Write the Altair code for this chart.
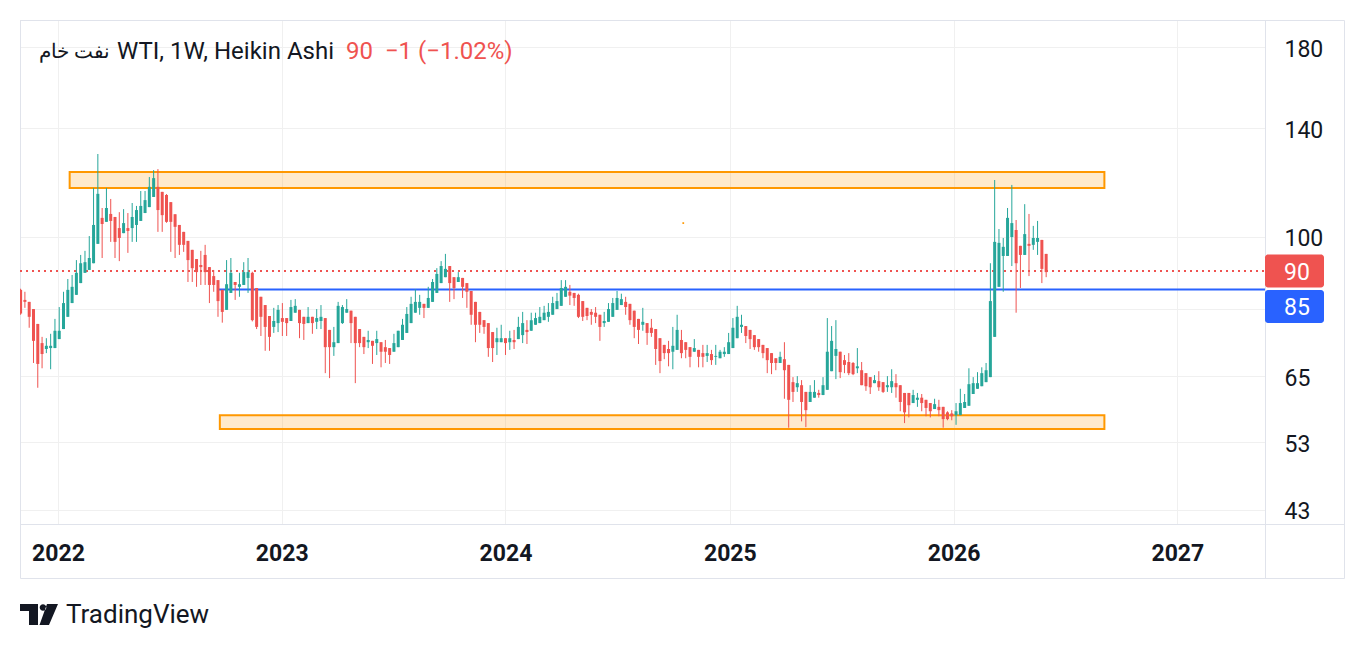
import altair as alt
import pandas as pd

# ---------------- data ----------------
first_week = "2021-11-01"

ha_open = [84.9, 82.3, 81.8, 80.0, 76.4, 72.0, 70.7, 70.9, 70.9, 72.9,
           75.2, 78.1, 81.5, 83.6, 86.7, 89.5, 90.3, 92.2, 97.9, 106.1,
           104.8, 107.4, 106.4, 102.8, 101.2, 102.8, 102.8, 103.8, 105.1, 107.7,
           109.7, 113.2, 116.8, 115.0, 113.9, 111.4, 107.3, 103.8, 101.6, 98.8,
           96.1, 93.4, 91.7, 94.6, 91.1, 88.6, 87.5, 84.9, 79.8, 84.1,
           87.0, 85.7, 86.2, 88.1, 89.5, 85.4, 83.1, 81.0, 78.3, 75.7,
           76.6, 77.8, 77.8, 77.1, 79.1, 79.8, 78.1, 76.6, 78.1, 76.9,
           77.1, 77.8, 75.0, 71.1, 72.0, 76.6, 79.1, 79.6, 78.1, 75.2,
           73.4, 72.2, 72.5, 72.0, 72.2, 71.1, 70.9, 70.1, 71.1, 72.7,
           74.3, 76.6, 79.1, 80.3, 81.3, 80.3, 81.8, 84.1, 86.7, 88.3,
           91.4, 88.3, 87.0, 88.1, 86.7, 84.6, 81.8, 79.3, 77.3, 76.6,
           74.5, 72.2, 72.2, 73.1, 72.2, 72.7, 72.9, 73.8, 75.0, 74.8,
           76.2, 76.6, 77.3, 78.1, 78.6, 80.0, 80.8, 83.1, 84.4, 84.1,
           83.6, 82.0, 80.3, 79.3, 79.1, 78.6, 76.6, 76.9, 78.1, 79.8,
           81.0, 81.8, 81.3, 79.6, 77.6, 76.2, 76.6, 75.5, 75.2, 73.1,
           71.6, 70.7, 70.1, 70.5, 72.7, 72.2, 71.1, 70.1, 70.5, 69.8,
           69.2, 69.6, 69.0, 68.7, 69.6, 69.6, 70.9, 73.1, 75.7, 75.9,
           75.0, 73.8, 72.9, 71.6, 70.9, 69.8, 68.7, 67.7, 68.5, 67.3,
           63.8, 62.8, 63.2, 61.9, 60.0, 60.8, 61.7, 61.3, 62.3, 66.0,
           69.2, 70.1, 68.3, 67.9, 67.7, 66.6, 66.2, 65.6, 64.8, 63.6,
           64.0, 63.8, 62.8, 62.8, 63.6, 63.2, 61.7, 61.7, 59.8, 60.4,
           60.8, 60.4, 59.8, 58.7, 59.1, 59.1, 58.1, 57.9, 57.6, 57.6,
           58.9, 59.3, 61.5, 62.5, 63.0, 63.8, 64.8, 73.4, 85.7, 94.3,
           94.3, 100.0, 102.2, 97.3, 94.6, 97.9, 97.6, 98.5, 99.1, 94.9]

ha_high = [85.2, 84.4, 81.8, 80.0, 76.4, 73.4, 73.1, 74.1, 77.6, 80.5,
           84.4, 87.8, 88.9, 93.1, 94.6, 95.8, 100.3, 116.4, 129.3, 109.4,
           116.4, 112.5, 106.4, 108.0, 109.0, 107.7, 111.1, 110.1, 115.3, 115.3,
           120.4, 123.0, 123.4, 115.0, 114.2, 111.4, 107.3, 103.8, 101.6, 98.8,
           96.1, 93.4, 95.8, 97.6, 91.1, 90.3, 87.5, 84.9, 93.1, 93.7,
           87.0, 89.5, 92.5, 93.7, 89.8, 85.4, 83.1, 81.0, 78.3, 80.3,
           81.0, 81.5, 77.8, 82.3, 82.5, 79.8, 78.1, 80.5, 78.1, 80.0,
           81.0, 77.8, 75.0, 75.7, 81.8, 81.0, 82.5, 79.6, 78.1, 75.2,
           73.4, 74.8, 72.5, 74.8, 72.2, 72.7, 70.9, 74.1, 74.8, 77.6,
           80.5, 83.1, 85.1, 83.6, 81.3, 85.7, 87.8, 90.8, 92.8, 94.9,
           91.4, 88.3, 89.7, 88.1, 86.7, 84.6, 81.8, 79.3, 77.3, 76.6,
           74.5, 75.5, 76.2, 73.1, 74.8, 75.0, 78.1, 79.3, 77.3, 79.1,
           79.1, 80.5, 80.8, 81.5, 83.1, 84.1, 87.5, 87.5, 86.2, 84.1,
           83.9, 82.0, 80.3, 80.0, 80.5, 78.6, 79.3, 81.5, 82.8, 84.6,
           83.9, 83.1, 81.3, 79.6, 77.6, 80.3, 76.6, 77.6, 75.2, 73.1,
           71.6, 72.5, 75.7, 78.6, 75.0, 72.2, 71.1, 72.9, 70.5, 71.6,
           71.6, 70.5, 71.6, 70.5, 71.1, 74.3, 77.8, 80.8, 78.6, 75.9,
           75.0, 73.8, 72.9, 71.6, 70.9, 69.8, 68.7, 70.1, 72.2, 67.3,
           64.8, 65.0, 64.2, 61.9, 63.2, 64.2, 62.3, 64.8, 77.8, 75.9,
           77.3, 70.1, 69.4, 69.8, 67.9, 70.9, 67.9, 65.6, 64.8, 65.2,
           66.0, 63.8, 65.0, 66.4, 65.4, 63.2, 61.7, 61.7, 62.3, 61.7,
           61.5, 60.4, 59.8, 60.6, 60.4, 59.1, 58.3, 58.5, 59.8, 62.5,
           61.5, 66.6, 64.8, 65.8, 66.8, 67.7, 92.2, 119.3, 102.5, 99.7,
           109.4, 117.5, 105.4, 97.3, 110.7, 107.4, 103.5, 105.1, 99.1, 94.9]

ha_low = [78.6, 80.3, 75.5, 67.7, 62.7, 66.6, 69.8, 66.4, 70.9, 72.9,
          75.2, 78.1, 81.5, 83.6, 86.7, 89.5, 90.3, 92.2, 97.9, 93.7,
          104.8, 98.5, 93.7, 92.8, 101.2, 95.2, 98.5, 98.5, 105.1, 107.7,
          109.7, 113.2, 101.6, 101.6, 104.5, 95.5, 93.7, 94.6, 95.5, 87.0,
          87.0, 85.7, 86.2, 86.2, 81.5, 84.4, 78.1, 76.7, 79.8, 84.1,
          82.3, 83.1, 86.2, 84.1, 77.0, 75.2, 73.6, 70.3, 70.3, 74.3,
          74.5, 73.6, 73.6, 77.1, 79.1, 73.1, 72.7, 76.6, 74.1, 75.2,
          75.2, 65.6, 64.6, 69.2, 72.0, 76.4, 79.1, 72.0, 63.6, 71.1,
          69.6, 70.9, 67.5, 69.4, 66.8, 67.7, 67.5, 70.1, 71.1, 72.7,
          74.3, 76.6, 79.1, 78.6, 77.8, 80.3, 81.8, 84.1, 86.7, 88.3,
          81.8, 82.5, 87.0, 82.8, 80.3, 76.2, 72.2, 74.3, 74.1, 69.0,
          67.9, 69.4, 72.2, 69.4, 70.5, 70.7, 72.9, 72.0, 71.8, 74.8,
          76.2, 76.6, 77.3, 76.9, 78.6, 80.0, 80.8, 83.1, 81.0, 80.8,
          77.8, 77.1, 77.3, 76.2, 76.6, 72.5, 75.7, 76.9, 78.1, 79.8,
          81.0, 78.6, 76.2, 73.1, 71.8, 74.8, 71.6, 73.4, 67.3, 65.6,
          68.5, 67.0, 66.4, 70.5, 68.7, 68.7, 66.8, 70.1, 66.8, 66.8,
          67.9, 67.3, 67.3, 68.7, 69.0, 69.6, 70.9, 73.1, 74.3, 72.0,
          70.7, 70.5, 70.1, 68.7, 65.6, 65.4, 66.2, 67.7, 60.6, 55.4,
          60.0, 61.9, 56.5, 55.5, 60.0, 60.8, 60.8, 61.3, 62.3, 66.0,
          64.4, 64.6, 65.6, 65.2, 65.2, 65.6, 63.2, 62.1, 61.5, 63.6,
          62.1, 61.7, 61.9, 61.7, 60.8, 58.3, 56.2, 57.2, 59.8, 59.1,
          58.3, 57.4, 57.2, 58.7, 57.4, 55.4, 56.7, 56.7, 55.9, 57.6,
          58.9, 59.3, 61.5, 62.5, 63.0, 63.8, 64.8, 73.4, 85.7, 84.4,
          94.3, 91.4, 79.1, 85.4, 94.6, 88.6, 96.1, 94.6, 86.7, 88.3]

ha_close = [78.9, 81.8, 78.1, 72.5, 67.5, 69.6, 71.4, 71.4, 74.8, 74.8,
            81.5, 84.9, 85.7, 89.5, 92.2, 92.5, 93.7, 103.8, 114.3, 104.1,
            109.4, 105.1, 98.5, 99.7, 104.4, 101.9, 106.4, 108.7, 110.1, 112.1,
            116.8, 120.0, 108.7, 107.0, 104.8, 104.8, 103.2, 97.6, 97.6, 93.1,
            90.8, 89.7, 91.1, 89.7, 86.2, 86.2, 82.0, 79.3, 86.4, 89.5,
            86.2, 86.4, 89.7, 89.7, 77.3, 75.7, 78.1, 75.7, 73.4, 77.1,
            79.8, 76.9, 76.6, 80.5, 80.8, 76.6, 76.4, 78.1, 76.6, 77.8,
            78.1, 71.1, 71.1, 72.2, 80.8, 80.5, 80.0, 76.6, 72.0, 72.0,
            71.1, 72.7, 71.4, 72.9, 70.1, 70.1, 69.4, 72.0, 74.8, 76.2,
            78.8, 81.3, 81.8, 81.8, 80.3, 82.8, 87.0, 89.2, 91.4, 90.6,
            86.7, 85.4, 88.3, 85.7, 84.4, 78.6, 76.2, 76.2, 75.7, 70.9,
            70.9, 73.1, 73.1, 72.0, 73.1, 72.2, 75.7, 76.6, 74.5, 77.3,
            77.8, 78.1, 79.1, 79.3, 81.5, 82.0, 85.4, 85.7, 83.4, 82.8,
            78.1, 78.1, 78.3, 78.6, 78.1, 75.7, 77.1, 80.0, 81.5, 82.8,
            82.5, 80.5, 77.3, 75.7, 75.0, 76.9, 74.3, 74.3, 70.7, 68.1,
            69.8, 69.8, 71.4, 75.0, 69.8, 70.5, 69.0, 70.9, 69.0, 69.0,
            69.8, 68.3, 69.2, 70.1, 70.1, 72.2, 75.5, 78.1, 76.2, 73.6,
            72.9, 71.1, 71.1, 69.8, 68.3, 67.7, 67.7, 69.0, 66.2, 60.4,
            61.9, 63.6, 60.0, 58.5, 61.9, 61.9, 61.3, 63.2, 70.1, 72.5,
            70.7, 65.8, 67.3, 65.6, 65.4, 67.0, 63.2, 63.0, 62.8, 64.2,
            62.8, 61.9, 63.2, 64.0, 62.8, 60.0, 58.1, 59.4, 61.3, 60.8,
            59.8, 58.9, 58.3, 59.6, 58.5, 56.9, 56.9, 57.4, 58.3, 59.8,
            60.0, 63.4, 63.6, 63.6, 65.6, 66.2, 82.0, 98.5, 98.2, 97.0,
            106.1, 104.4, 92.2, 94.6, 100.9, 97.3, 99.7, 99.7, 90.6, 89.7]

zone_start = ["2022-01-20", "2022-09-22"]
zone_end = ["2026-09-04", "2026-09-04"]
zone_low = [116.4, 55.2]
zone_high = [122.3, 57.6]

level_start = "2022-09-19"
level_price = 85
last_price = 90
marker_date = "2024-10-17"
marker_price = 104.4

price_ticks = [43, 53, 65, 80, 100, 140, 180]
year_ticks = [2022, 2023, 2024, 2025, 2026, 2027]

title_name = "نفت خام"
title_rest = "WTI, 1W, Heikin Ashi"
title_change = "90\u00a0\u00a0\u22121 (\u22121.02%)"
brand = "TradingView"

# ---------------- styling ----------------
UP = "#26a69a"
DOWN = "#ef5350"
BLUE = "#2962ff"
ORANGE = "#ff9800"
INK = "#131722"
GRID = "#f0f0f0"
BORDER = "#e0e3eb"
FONT = "Roboto"
W, H = 1245, 504

weeks = pd.date_range(first_week, periods=len(ha_close), freq="7D").strftime("%Y-%m-%d")
candles = pd.DataFrame({"date": weeks, "open": ha_open, "high": ha_high,
                        "low": ha_low, "close": ha_close})
candles["dir"] = ["up" if c >= o else "down" for o, c in zip(ha_open, ha_close)]

zones = pd.DataFrame({"start": zone_start, "end": zone_end,
                      "low": zone_low, "high": zone_high})

x_scale = alt.Scale(type="utc", padding=0,
                    domain=[alt.DateTime(year=2021, month=10, date=31, utc=True),
                            alt.DateTime(year=2027, month=5, date=24, utc=True)])
y_scale = alt.Scale(type="log", domain=[41.12, 195.8], nice=False, padding=0)

x_axis = alt.Axis(values=[alt.DateTime(year=y, month=1, date=1, utc=True) for y in year_ticks],
                  format="%Y", title=None, grid=True, ticks=False, tickSize=0, domain=False,
                  labelFontWeight="bold", labelFontSize=23, labelPadding=29,
                  labelBaseline="middle", labelColor=INK, gridColor=GRID,
                  labelFont=FONT, labelFlush=False)
y_axis = alt.Axis(orient="right", values=price_ticks, title=None, ticks=False, tickSize=0,
                  domain=False, labelAlign="left", labelBaseline="middle", labelPadding=19,
                  labelFontSize=23, labelColor=INK, gridColor=GRID, labelFont=FONT,
                  labelOffset=2,
                  labelExpr="datum.value == 80 ? '' : datum.label", labelOverlap=False)

X = alt.X("date:T", scale=x_scale, axis=x_axis)
color = alt.Color("dir:N", scale=alt.Scale(domain=["up", "down"], range=[UP, DOWN]), legend=None)

one = alt.Data(values=[{}])

frame = alt.Chart(one).mark_rect(fillOpacity=0, stroke=BORDER, strokeWidth=1).encode(
    x=alt.value(0.5), x2=alt.value(1324.5), y=alt.value(0.5), y2=alt.value(558.5))
vline = alt.Chart(one).mark_rule(color=BORDER, strokeWidth=1).encode(
    x=alt.value(1245.5), y=alt.value(0), y2=alt.value(559))
hline = alt.Chart(one).mark_rule(color=BORDER, strokeWidth=1).encode(
    y=alt.value(504.5), x=alt.value(0), x2=alt.value(1325))

zone_layer = alt.Chart(zones).mark_rect(fill=ORANGE, fillOpacity=0.2, stroke=ORANGE,
                                        strokeWidth=2, clip=True).encode(
    x=alt.X("start:T", scale=x_scale, axis=x_axis), x2="end:T",
    y=alt.Y("low:Q", scale=y_scale, axis=y_axis), y2="high:Q")

wicks = alt.Chart(candles).mark_rule(strokeWidth=1, clip=True).encode(
    x=X, y=alt.Y("low:Q", scale=y_scale, axis=y_axis), y2="high:Q", color=color)
bodies = alt.Chart(candles).mark_bar(size=3, clip=True).encode(
    x=X, y=alt.Y("open:Q", scale=y_scale, axis=y_axis), y2="close:Q", color=color)

level = alt.Chart(alt.Data(values=[{"start": level_start, "price": level_price}])).mark_rule(
    color=BLUE, strokeWidth=2).encode(
    x=alt.X("start:T", scale=x_scale, axis=x_axis), x2=alt.value(W),
    y=alt.Y("price:Q", scale=y_scale, axis=y_axis))

last_line = alt.Chart(alt.Data(values=[{"price": last_price}])).mark_rule(
    color=DOWN, strokeWidth=2, strokeDash=[2, 4]).encode(
    x=alt.value(0), x2=alt.value(W), y=alt.Y("price:Q", scale=y_scale, axis=y_axis))

marker = alt.Chart(alt.Data(values=[{"date": marker_date, "price": marker_price}])).mark_point(
    shape="square", size=3, filled=True, color=ORANGE, opacity=1).encode(
    x=alt.X("date:T", scale=x_scale, axis=x_axis), y=alt.Y("price:Q", scale=y_scale, axis=y_axis))

badges = []
for price, col, off in [(last_price, DOWN, 0), (level_price, BLUE, 17)]:
    d = alt.Data(values=[{"price": price, "label": str(price)}])
    badges.append(alt.Chart(d).mark_tick(orient="horizontal", size=59, thickness=33,
                                         color=col, opacity=1, yOffset=off,
                                         cornerRadius=3).encode(
        x=alt.value(1274.5), y=alt.Y("price:Q", scale=y_scale, axis=y_axis)))
    badges.append(alt.Chart(d).mark_text(color="white", fontSize=23, font=FONT, align="left",
                                         baseline="middle", yOffset=off + 1.5).encode(
        x=alt.value(1264), y=alt.Y("price:Q", scale=y_scale, axis=y_axis), text="label:N"))

title0 = alt.Chart(alt.Data(values=[{"t": title_name}])).mark_text(
    fontSize=20, font=FONT, color=INK, align="right", baseline="middle").encode(
    x=alt.value(90), y=alt.value(32), text="t:N")
title1 = alt.Chart(alt.Data(values=[{"t": title_rest}])).mark_text(
    fontSize=24, font=FONT, color=INK, align="left", baseline="middle").encode(
    x=alt.value(97), y=alt.value(32), text="t:N")
title2 = alt.Chart(alt.Data(values=[{"t": title_change}])).mark_text(
    fontSize=24, font=FONT, color=DOWN, align="left", baseline="middle").encode(
    x=alt.value(326), y=alt.value(32), text="t:N")

LOGO = ("M-0.974,-0.538 L-0.051,-0.538 L-0.051,0.538 L-0.513,0.538 L-0.513,-0.179 L-0.974,-0.179 Z "
        "M0.036,-0.359 A0.169,0.169 0 1 0 0.374,-0.359 A0.169,0.169 0 1 0 0.036,-0.359 Z "
        "M0.410,-0.538 L0.974,-0.538 L0.513,0.538 L0.026,0.538 Z")
logo = alt.Chart(one).mark_point(shape=LOGO, size=1521, filled=True, color=INK,
                                 opacity=1, strokeWidth=0).encode(
    x=alt.value(19), y=alt.value(594.5))
brand_text = alt.Chart(alt.Data(values=[{"t": brand}])).mark_text(
    fontSize=26, font=FONT, color=INK, align="left", baseline="middle").encode(
    x=alt.value(46), y=alt.value(595), text="t:N")

chart = alt.layer(frame, vline, hline, zone_layer, level, last_line, wicks, bodies, marker,
                  *badges, title0, title1, title2, logo, brand_text).properties(
    width=W, height=H, autosize=alt.AutoSizeParams(type="none"),
    padding={"left": 12, "top": 12, "right": 95, "bottom": 118},
    background="white").configure_view(strokeWidth=0).configure(font=FONT)

chart.save("out.html", embed_options={"renderer": "svg", "actions": False})
